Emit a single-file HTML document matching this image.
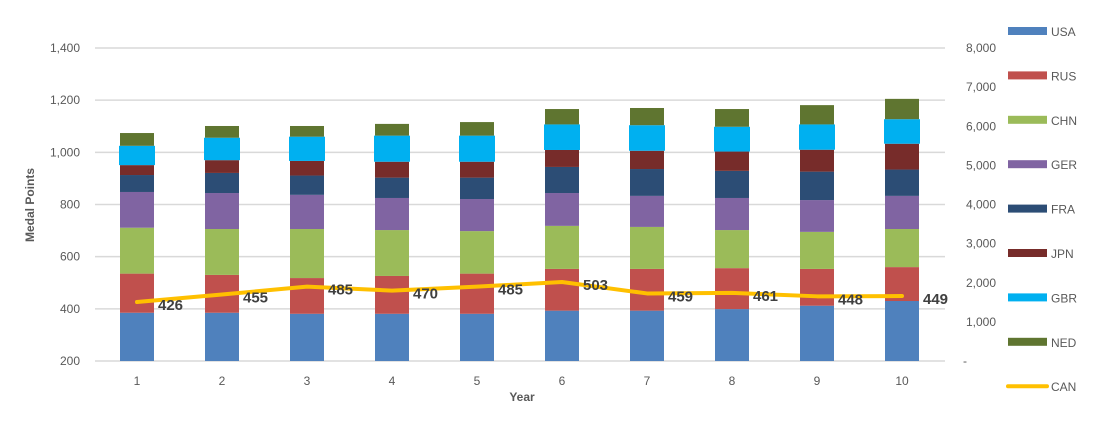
<!DOCTYPE html>
<html><head><meta charset="utf-8"><style>
body{margin:0;background:#fff;font-family:"Liberation Sans",sans-serif;}
svg text{font-family:"Liberation Sans",sans-serif;}
</style></head><body>
<svg id="chart" width="1115" height="422" xmlns="http://www.w3.org/2000/svg">
<g id="grid"></g>
<g id="bars"></g>
<g id="line"></g>
<g id="axes"></g>
<g id="legend"></g>
<text x="34" y="205" transform="rotate(-90 34 205)" text-anchor="middle" font-size="12" font-weight="bold" fill="#595959">Medal Points</text>
<text x="522" y="401" text-anchor="middle" font-size="12" font-weight="bold" fill="#595959">Year</text>
</svg>
<script>
const categories=["1","2","3","4","5","6","7","8","9","10"];
const seriesNames=["USA","RUS","CHN","GER","FRA","JPN","GBR","NED"];
const USA=[385,385,381,381,381,393,393,399,412,430];
const RUS=[150,145,137,145,154,160,160,157,141,130];
const CHN=[176,176,188,176,163,165,161,146,142,146];
const GER=[137,138,131,123,123,126,119,123,122,127];
const FRA=[65,77,74,78,82,100,103,104,109,101];
const JPN=[38,49,56,61,61,65,70,74,84,99];
const GBR=[74,86,93,100,100,98,98,95,97,94];
const NED=[49,45,41,45,52,59,66,68,74,78];
const CAN=[426,455,485,470,485,503,459,461,448,449];
const leftTicks=[200,400,600,800,1000,1200,1400];
const rightTicks=["-","1,000","2,000","3,000","4,000","5,000","6,000","7,000","8,000"];
const colors=["#4f81bd","#c0504d","#9bbb59","#8064a2","#2c4d75","#772c2a","#00b0f0","#5f7530"];
const NS="http://www.w3.org/2000/svg";
const yMin=200,yMax=1400,pyTop=48,pyBot=361;
function y(v){return pyBot-(v-yMin)/(yMax-yMin)*(pyBot-pyTop);}
function x(i){return 137+i*85;}
function mk(tag,attrs,parent,txt){const e=document.createElementNS(NS,tag);for(const k in attrs)e.setAttribute(k,attrs[k]);if(txt!==undefined)e.textContent=txt;parent.appendChild(e);return e;}
const grid=document.getElementById('grid'),axes=document.getElementById('axes');
leftTicks.forEach(t=>{
 const l=mk('line',{x1:95,x2:945,y1:y(t),y2:y(t),stroke:'#d9d9d9','stroke-width':1.5},grid);
 
 
 const tx=mk('text',{x:80,y:y(t)+4,'text-anchor':'end','font-size':12,fill:'#595959'},axes,t.toLocaleString('en-US'));
 
 
});
rightTicks.forEach((t,i)=>{
 const py=pyBot-i*(pyBot-pyTop)/(rightTicks.length-1);
 const tx=mk('text',{x:t==="-"?963:996,y:py+4,'text-anchor':t==="-"?'start':'end','font-size':12,fill:'#595959'},axes,t);
 
 
});
categories.forEach((c,i)=>{
 const tx=mk('text',{x:x(i),y:385,'text-anchor':'middle','font-size':12,fill:'#595959'},axes,c);
 
 
});
const bars=document.getElementById('bars');
const series=[USA,RUS,CHN,GER,FRA,JPN,GBR,NED];
categories.forEach((c,i)=>{
 let base=0;
 series.forEach((s,k)=>{
  const v0=base===0?yMin:base;const top=(base===0?0:base)+s[i];
  const y0=base===0?y(yMin):y(base);base=(base===0?0:base)+s[i];
  const w=k===6?36:34;
  const r=mk('rect',{x:x(i)-w/2,y:y(base),width:w,height:y0-y(base),fill:colors[k]},bars);
  
  
 });
});
const lg=document.getElementById('line');
const pts=CAN.map((v,i)=>x(i)+','+y(v)).join(' ');
const pl=mk('polyline',{points:pts,fill:'none',stroke:'#ffc000','stroke-width':4,'stroke-linejoin':'round','stroke-linecap':'round'},lg);


CAN.forEach((v,i)=>{
 const t=mk('text',{x:x(i)+21,y:y(v)+8,'font-size':15,'font-weight':'bold',fill:'#404040'},lg,String(v));
 
 
});
const legend=document.getElementById('legend');
const allNames=seriesNames.concat(["CAN"]);const allColors=colors.concat(["#ffc000"]);
allNames.forEach((n,i)=>{
 const cy=31+i*44.4;
 const g=mk('g',{},legend);
 
 
 if(n==="CAN")mk('line',{x1:1008,x2:1047,y1:cy,y2:cy,stroke:allColors[i],'stroke-width':4,'stroke-linecap':'round'},g);
 else mk('rect',{x:1008,y:cy-4,width:39,height:8,fill:allColors[i]},g);
 mk('text',{x:1051,y:cy+5,'font-size':12,fill:'#595959'},g,n);
});
</script>
</body></html>
